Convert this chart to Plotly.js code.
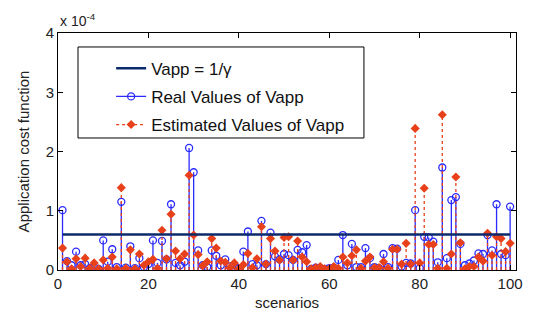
<!DOCTYPE html>
<html>
<head>
<meta charset="utf-8">
<script src="https://cdn.plot.ly/plotly-3.0.1.min.js"></script>
<style>html,body{margin:0;padding:0;background:#fff;}#chart{width:534px;height:324px;}</style>
</head>
<body>
<div id="chart"></div>
<script>
// scenario indices
const scenarios = [1,2,3,4,5,6,7,8,9,10,11,12,13,14,15,16,17,18,19,20,
  21,22,23,24,25,26,27,28,29,30,31,32,33,34,35,36,37,38,39,40,
  41,42,43,44,45,46,47,48,49,50,51,52,53,54,55,56,57,58,59,60,
  61,62,63,64,65,66,67,68,69,70,71,72,73,74,75,76,77,78,79,80,
  81,82,83,84,85,86,87,88,89,90,91,92,93,94,95,96,97,98,99,100];
// values in units of 1e-4
const realValues = [1.01,0.15,0.08,0.31,0.08,0.10,0.03,0.05,0.02,0.50,
  0.14,0.35,0.05,1.15,0.04,0.40,0.03,0.20,0.05,0.10,
  0.50,0.12,0.49,0.18,1.11,0.12,0.08,0.14,2.06,1.65,
  0.33,0.08,0.05,0.33,0.24,0.08,0.18,0.06,0.09,0.03,
  0.31,0.65,0.10,0.08,0.83,0.10,0.63,0.23,0.18,0.27,
  0.25,0.17,0.34,0.30,0.42,0.02,0.04,0.03,0.02,0.03,
  0.04,0.17,0.59,0.08,0.44,0.05,0.05,0.37,0.20,0.05,
  0.03,0.27,0.05,0.37,0.36,0.06,0.12,0.11,1.01,0.03,
  0.56,0.55,0.48,0.13,1.73,0.20,1.18,1.23,0.44,0.08,
  0.11,0.16,0.28,0.27,0.59,0.33,1.11,0.27,0.25,1.07];
const estimatedValues = [0.37,0.14,0.02,0.19,0.06,0.20,0.03,0.12,0.02,0.17,
  0.03,0.22,0.02,1.39,0.03,0.34,0.02,0.27,0.08,0.14,
  0.18,0.03,0.67,0.19,0.94,0.32,0.19,0.27,1.60,0.59,
  0.26,0.07,0.14,0.53,0.37,0.15,0.13,0.04,0.12,0.02,
  0.09,0.28,0.04,0.19,0.73,0.10,0.53,0.32,0.17,0.55,
  0.56,0.17,0.49,0.22,0.14,0.02,0.04,0.06,0.02,0.02,
  0.06,0.03,0.22,0.12,0.24,0.34,0.03,0.15,0.22,0.04,
  0.04,0.14,0.03,0.35,0.35,0.10,0.45,0.10,2.39,0.12,
  1.38,0.43,0.43,0.03,2.62,0.03,0.27,1.57,0.46,0.02,
  0.06,0.06,0.22,0.15,0.62,0.25,0.56,0.53,0.31,0.45];
const vappLevel = 0.6;
const xTicks = [0,20,40,60,80,100];
const yTicks = [0,1,2,3,4];
const legendNames = ['Vapp = 1/\u03b3','Real Values of Vapp','Estimated Values of Vapp'];

const navy = '#0b2a6b', blue = '#2a2aff', red = '#e8401a';

function stemXY(vals){
  const x=[], y=[];
  vals.forEach((v,i)=>{ x.push(scenarios[i],scenarios[i],null); y.push(0,v,null); });
  return {x,y};
}
const rs = stemXY(realValues), es = stemXY(estimatedValues);

const traces = [
  {x: rs.x, y: rs.y, mode:'lines', line:{color:blue, width:1.3}, showlegend:false, hoverinfo:'skip'},
  {x: scenarios, y: realValues, mode:'markers', marker:{symbol:'circle-open', size:7, color:blue, line:{width:1.3,color:blue}}, showlegend:false},
  {x: es.x, y: es.y, mode:'lines', line:{color:red, width:1.3, dash:'dot'}, showlegend:false, hoverinfo:'skip'},
  {x: scenarios, y: estimatedValues, mode:'markers', marker:{symbol:'diamond', size:7, color:red}, showlegend:false},
  {x: [scenarios[0], scenarios[scenarios.length-1]], y:[vappLevel, vappLevel], mode:'lines', line:{color:navy, width:2.5}, showlegend:false},
  // legend entries
  {x:[null], y:[null], mode:'lines', line:{color:navy, width:2.5}, name:legendNames[0], legendgroup:'a'},
  {x:[null], y:[null], mode:'lines+markers', line:{color:blue, width:1.3}, marker:{symbol:'circle-open', size:7, color:blue, line:{width:1.3,color:blue}}, name:legendNames[1], legendgroup:'b'},
  {x:[null], y:[null], mode:'lines+markers', line:{color:red, width:1.3, dash:'dot'}, marker:{symbol:'diamond', size:7, color:red}, name:legendNames[2], legendgroup:'c'}
];

const font = {family:'Liberation Sans, Arial, sans-serif', size:14, color:'#222'};
const layout = {
  width:534, height:324,
  margin:{l:58, r:18, t:33, b:54},
  paper_bgcolor:'#fff', plot_bgcolor:'#fff',
  font: font,
  showlegend:true,
  xaxis:{range:[0,101.3], tickvals:xTicks, ticktext:xTicks.map(String), ticks:'inside', ticklen:5, tickcolor:'#000',
    showline:true, linecolor:'#000', linewidth:1, mirror:'ticks', showgrid:false, zeroline:false,
    tickfont:{family:font.family, size:15, color:'#222'},
    title:{text:'scenarios', font:{family:font.family, size:15, color:'#222'}, standoff:6}},
  yaxis:{range:[0,4], tickvals:yTicks, ticktext:yTicks.map(String), ticks:'inside', ticklen:5, tickcolor:'#000',
    showline:true, linecolor:'#000', linewidth:1, mirror:'ticks', showgrid:false, zeroline:false,
    tickfont:{family:font.family, size:15, color:'#222'},
    title:{text:'Application cost function', font:{family:font.family, size:15, color:'#222'}, standoff:12}},
  legend:{x:0.116, y:0.925, xanchor:'left', yanchor:'top', bgcolor:'rgba(0,0,0,0)', borderwidth:0,
    font:{family:font.family, size:17, color:'#111'}, tracegroupgap:3, traceorder:'grouped'},
  shapes:[{type:'rect', xref:'paper', yref:'paper', x0:0.0437, x1:0.668, y0:0.557, y1:0.941,
    line:{color:'#000', width:1}, fillcolor:'#fff', layer:'above'}],
  annotations:[{xref:'paper', yref:'paper', x:0, y:1, xanchor:'left', yanchor:'bottom', yshift:2,
    text:'x 10<sup>-4</sup>', showarrow:false, font:{family:font.family, size:14, color:'#222'}}]
};
Plotly.newPlot('chart', traces, layout, {displayModeBar:false, staticPlot:true});
</script>
</body>
</html>
